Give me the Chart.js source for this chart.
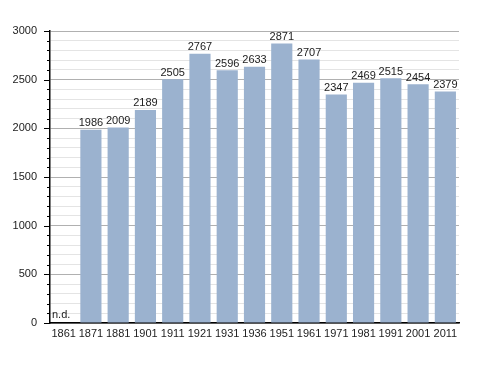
<!DOCTYPE html>
<html>
<head>
<meta charset="utf-8">
<script src="https://cdn.jsdelivr.net/npm/chart.js@4"></script>
<style>
  html, body { margin: 0; padding: 0; background: #fff; }
  #wrap { width: 488px; height: 373px; }
</style>
</head>
<body>
<div id="wrap"><canvas id="chart"></canvas></div>
<script>
  const years = ['1861', '1871', '1881', '1901', '1911', '1921', '1931', '1936', '1951', '1961', '1971', '1981', '1991', '2001', '2011'];
  const population = [null, 1986, 2009, 2189, 2505, 2767, 2596, 2633, 2871, 2707, 2347, 2469, 2515, 2454, 2379];
  const yMax = 3000;
  const majorStep = 500;
  const minorStep = 100;
  const noDataText = 'n.d.';

  const font = "'Liberation Sans', Arial, sans-serif";
  const textColor = '#222';

  // values over bars + "n.d." for missing years
  const valueLabels = {
    id: 'valueLabels',
    afterDatasetsDraw(chart) {
      const ctx = chart.ctx;
      const meta = chart.getDatasetMeta(0);
      ctx.save();
      ctx.font = '11px ' + font;
      ctx.fillStyle = textColor;
      meta.data.forEach((bar, i) => {
        const v = population[i];
        if (v == null) {
          ctx.textAlign = 'left';
          ctx.textBaseline = 'bottom';
          ctx.fillText(noDataText, chart.chartArea.left + 2, chart.chartArea.bottom - 3);
          return;
        }
        ctx.textAlign = 'center';
        ctx.textBaseline = 'bottom';
        ctx.fillText(String(v), bar.x, bar.y - 1);
      });
      ctx.restore();
    }
  };

  // tick marks on the y axis: long at major, short at minor
  const yTickMarks = {
    id: 'yTickMarks',
    afterDraw(chart) {
      const ctx = chart.ctx;
      const y = chart.scales.y;
      const left = chart.chartArea.left;
      ctx.save();
      ctx.strokeStyle = '#000';
      ctx.lineWidth = 1;
      for (let v = 0; v <= yMax; v += minorStep) {
        const py = Math.round(y.getPixelForValue(v)) + 0.5;
        const len = v % majorStep === 0 ? 6 : 3;
        ctx.beginPath();
        ctx.moveTo(left - len, py);
        ctx.lineTo(left, py);
        ctx.stroke();
      }
      ctx.restore();
    }
  };

  new Chart(document.getElementById('chart'), {
    type: 'bar',
    data: {
      labels: years,
      datasets: [{
        data: population,
        backgroundColor: '#9bb2cf',
        barPercentage: 0.8,
        categoryPercentage: 0.97
      }]
    },
    options: {
      responsive: true,
      maintainAspectRatio: false,
      animation: false,
      layout: { padding: { left: 0, top: 31, right: 29, bottom: 25 } },
      plugins: {
        legend: { display: false },
        tooltip: { enabled: false }
      },
      scales: {
        x: {
          grid: { display: false, drawTicks: false },
          border: { color: '#000', width: 1.5 },
          ticks: { color: textColor, font: { family: font, size: 11 }, padding: 4, maxRotation: 0, autoSkip: false },
          afterFit: s => { s.height = 25; }
        },
        y: {
          min: 0,
          max: yMax,
          grid: {
            drawTicks: false,
            color: c => (c.tick && c.tick.value % majorStep === 0) ? '#b0b0b0' : '#e4e4e4',
            lineWidth: 1
          },
          border: { color: '#000', width: 1.5 },
          ticks: {
            stepSize: minorStep,
            autoSkip: false,
            color: textColor,
            font: { family: font, size: 11 },
            padding: 13,
            callback: v => v % majorStep === 0 ? v : ''
          },
          afterFit: s => { s.width = 50; }
        }
      }
    },
    plugins: [valueLabels, yTickMarks]
  });
</script>
</body>
</html>
